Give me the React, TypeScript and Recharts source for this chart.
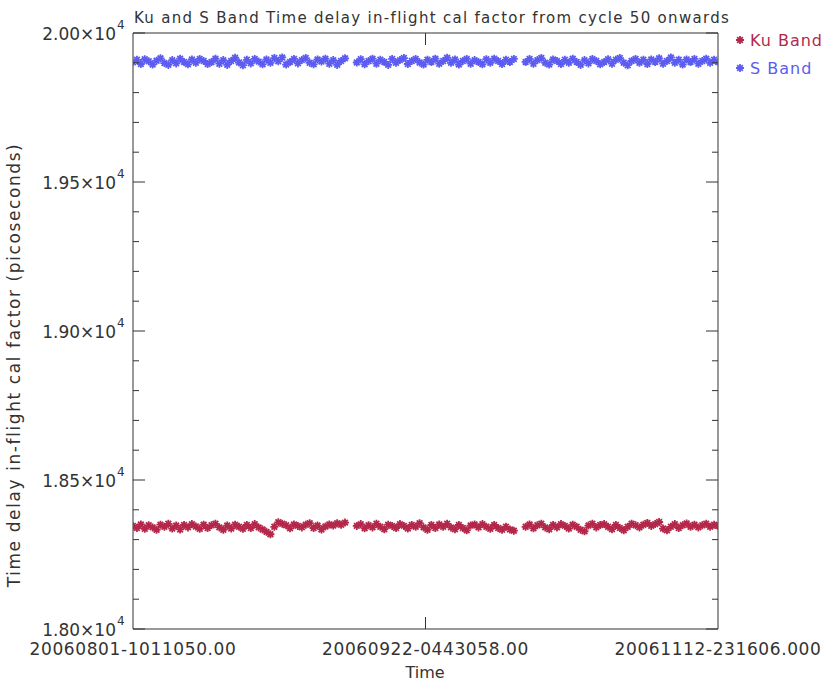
import { ScatterChart, Scatter, XAxis, YAxis, ReferenceLine } from 'recharts';

// sample slots 0..149 across the time range, null = no data (gaps)
const kuBand: (number | null)[] = [
    18346, 18339, 18351, 18336, 18348, 18341, 18333, 18350, 18343, 18353,
    18337, 18347, 18334, 18349, 18341, 18352, 18344, 18336, 18350, 18339,
    18348, 18353, 18341, 18333, 18347, 18337, 18350, 18343, 18336, 18349,
    18339, 18352, 18341, 18334, 18326, 18318, 18343, 18358, 18353, 18348,
    18338, 18351, 18346, 18341, 18350, 18355, 18339, 18347, 18334, 18344,
    18351, 18347, 18355, 18350, 18357, null, null,
    18346, 18352, 18338, 18348, 18341, 18353, 18343, 18335, 18350, 18346,
    18339, 18352, 18346, 18337, 18349, 18343, 18355, 18341, 18333, 18349,
    18339, 18351, 18343, 18353, 18341, 18335, 18349, 18339, 18331, 18347,
    18351, 18341, 18352, 18343, 18336, 18349, 18339, 18333, 18343, 18334, 18330,
    null, null,
    18343, 18351, 18338, 18348, 18353, 18341, 18335, 18349, 18341, 18352,
    18346, 18337, 18350, 18343, 18333, 18328, 18347, 18353, 18341, 18349,
    18352, 18343, 18335, 18349, 18339, 18331, 18343, 18353, 18348, 18341,
    18350, 18356, 18346, 18352, 18359, 18337, 18331, 18343, 18352, 18339,
    18348, 18354, 18343, 18350, 18341, 18348, 18353, 18343, 18350, 18346,
];

const sBand: (number | null)[] = [
    19902, 19910, 19896, 19912, 19905, 19894, 19907, 19915, 19899, 19893,
    19909, 19898, 19914, 19903, 19895, 19911, 19900, 19913, 19906, 19896,
    19903, 19914, 19897, 19909, 19893, 19906, 19917, 19901, 19892, 19910,
    19898, 19913, 19904, 19895, 19911, 19900, 19916, 19905, 19918, 19894,
    19903, 19913, 19898, 19909, 19916, 19900, 19895, 19911, 19904, 19914,
    19897, 19909, 19893, 19906, 19915, null, null,
    19901, 19912, 19895, 19906, 19914, 19897, 19910, 19903, 19893, 19913,
    19900, 19909, 19916, 19896, 19906, 19913, 19901, 19894, 19910, 19903,
    19914, 19897, 19906, 19917, 19900, 19911, 19894, 19906, 19913, 19897,
    19909, 19903, 19895, 19912, 19900, 19914, 19906, 19896, 19910, 19903, 19913,
    null, null,
    19903, 19913, 19897, 19909, 19916, 19900, 19894, 19911, 19906, 19896,
    19910, 19900, 19914, 19903, 19893, 19909, 19898, 19913, 19906, 19895,
    19903, 19912, 19897, 19910, 19916, 19900, 19892, 19906, 19913, 19900,
    19910, 19896, 19911, 19903, 19915, 19897, 19906, 19918, 19900, 19910,
    19894, 19911, 19903, 19913, 19897, 19906, 19914, 19900, 19910, 19903,
];

const xTicks = [0, 74.5, 149];
const xTickLabels = ['20060801-1011050.00', '20060922-0443058.00', '20061112-231606.000'];

const yTicks = [
    18000, 18100, 18200, 18300, 18400, 18500, 18600, 18700, 18800, 18900, 19000,
    19100, 19200, 19300, 19400, 19500, 19600, 19700, 19800, 19900, 20000,
];
const yMajorTicks = [18000, 18500, 19000, 19500, 20000];
const yMajorLabels = ['1.80', '1.85', '1.90', '1.95', '2.00'];

const KU_COLOR = '#b3284a';
const S_COLOR = '#5c5cf0';
const INK = '#333';
const FONT = '"DejaVu Sans", sans-serif';

const PLOT_LEFT = 133;
const PLOT_RIGHT = 718;
const PLOT_TOP = 33;
const PLOT_BOTTOM = 629;

const toPoints = (vals: (number | null)[]) =>
    vals.flatMap((v, i) => (v == null ? [] : [{ slot: i, value: v }]));

const kuData = toPoints(kuBand);
const sData = toPoints(sBand);

const asterisk = (color: string) => (props: any) => {
    const { cx, cy } = props;
    if (cx == null || cy == null) return <g />;
    const r = 4;
    const d = r * 0.71;
    return (
        <path
            d={`M${cx} ${cy - r}V${cy + r}M${cx - r} ${cy}H${cx + r}M${cx - d} ${cy - d}L${cx + d} ${cy + d}M${cx - d} ${cy + d}L${cx + d} ${cy - d}`}
            stroke={color}
            strokeWidth={1.8}
            fill="none"
        />
    );
};

const YTick = (props: any) => {
    const { y, payload } = props;
    const idx = yMajorTicks.indexOf(payload.value);
    const len = idx >= 0 ? 12 : 6;
    return (
        <g>
            <line x1={PLOT_LEFT} x2={PLOT_LEFT + len} y1={y} y2={y} stroke={INK} />
            <line x1={PLOT_RIGHT - len} x2={PLOT_RIGHT} y1={y} y2={y} stroke={INK} />
            {idx >= 0 && (
                <>
                    <text x={116} y={y + 7} textAnchor="end" fontSize={17} fill={INK} fontFamily={FONT}>
                        {yMajorLabels[idx]}×10
                    </text>
                    <text x={117} y={y - 4} fontSize={12} fill={INK} fontFamily={FONT}>
                        4
                    </text>
                </>
            )}
        </g>
    );
};

const XTick = (props: any) => {
    const { x, payload } = props;
    const idx = xTicks.indexOf(payload.value);
    const inner = idx > 0 && idx < xTicks.length - 1;
    return (
        <g>
            {inner && (
                <>
                    <line x1={x} x2={x} y1={PLOT_BOTTOM} y2={PLOT_BOTTOM - 12} stroke={INK} />
                    <line x1={x} x2={x} y1={PLOT_TOP} y2={PLOT_TOP + 12} stroke={INK} />
                </>
            )}
            <text x={x} y={655} textAnchor="middle" fontSize={17} letterSpacing={0.6} fill={INK} fontFamily={FONT}>
                {xTickLabels[idx]}
            </text>
        </g>
    );
};

export default function App() {
    return (
        <div style={{ position: 'absolute', left: 0, top: 0, width: 825, height: 681, background: '#fff' }}>
            <ScatterChart width={825} height={681} margin={{ top: PLOT_TOP, right: 825 - PLOT_RIGHT, left: 0, bottom: 0 }}>
                <XAxis
                    type="number"
                    dataKey="slot"
                    domain={[0, 149]}
                    ticks={xTicks}
                    tick={<XTick />}
                    tickLine={false}
                    axisLine={{ stroke: INK }}
                    height={681 - PLOT_BOTTOM}
                    interval={0}
                    allowDataOverflow
                />
                <YAxis
                    type="number"
                    dataKey="value"
                    domain={[18000, 20000]}
                    ticks={yTicks}
                    tick={<YTick />}
                    tickLine={false}
                    axisLine={{ stroke: INK }}
                    width={PLOT_LEFT}
                    interval={0}
                    allowDataOverflow
                />
                <ReferenceLine y={20000} stroke={INK} />
                <ReferenceLine x={149} stroke={INK} />
                <Scatter name="Ku Band" data={kuData} fill={KU_COLOR} shape={asterisk(KU_COLOR)} isAnimationActive={false} />
                <Scatter name="S Band" data={sData} fill={S_COLOR} shape={asterisk(S_COLOR)} isAnimationActive={false} />
            </ScatterChart>
            <svg width={825} height={681} style={{ position: 'absolute', left: 0, top: 0, pointerEvents: 'none' }}>
                <text x={432} y={23} textAnchor="middle" fontSize={15} letterSpacing={1.3} fill={INK} fontFamily={FONT}>
                    Ku and S Band Time delay in-flight cal factor from cycle 50 onwards
                </text>
                <text x={425} y={678} textAnchor="middle" fontSize={16} fill={INK} fontFamily={FONT}>
                    Time
                </text>
                <text
                    transform="translate(20 365) rotate(-90)"
                    textAnchor="middle"
                    fontSize={17}
                    letterSpacing={1.6}
                    fill={INK}
                    fontFamily={FONT}
                >
                    Time delay in-flight cal factor (picoseconds)
                </text>
                <g>
                    {asterisk(KU_COLOR)({ cx: 740, cy: 40 })}
                    <text x={750} y={46} fontSize={16} letterSpacing={1} fill={KU_COLOR} fontFamily={FONT}>Ku Band</text>
                    {asterisk(S_COLOR)({ cx: 740, cy: 68 })}
                    <text x={750} y={74} fontSize={16} letterSpacing={1} fill={S_COLOR} fontFamily={FONT}>S Band</text>
                </g>
            </svg>
        </div>
    );
}
